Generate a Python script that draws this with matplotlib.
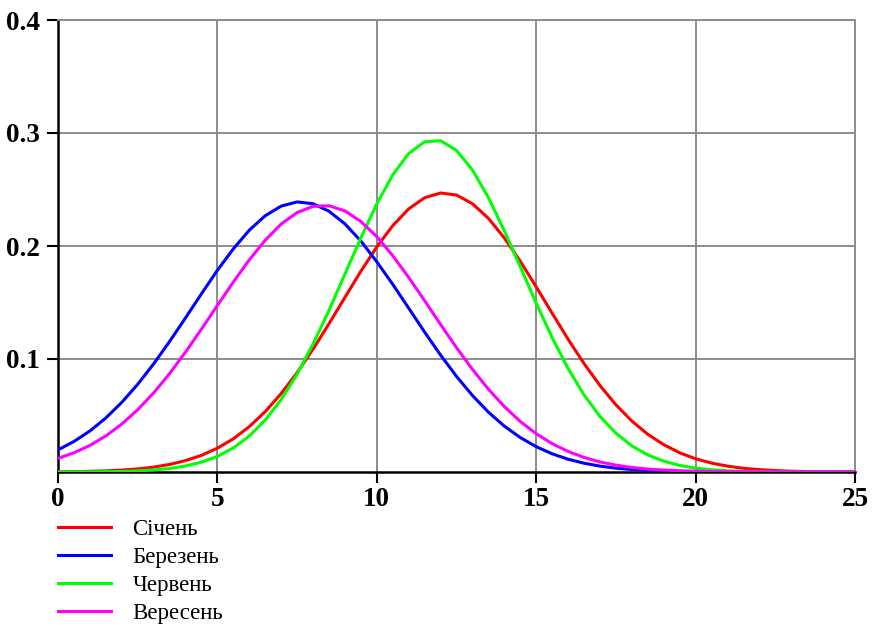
import matplotlib
matplotlib.use("Agg")
import matplotlib.pyplot as plt
import numpy as np

x = [i * 0.5 for i in range(51)]

sichen = [0.0002, 0.0003, 0.0006, 0.0010, 0.0017, 0.0027, 0.0043, 0.0067, 0.0101, 0.0147,
          0.0211, 0.0294, 0.0401, 0.0534, 0.0694, 0.0879, 0.1087, 0.1312, 0.1545, 0.1776,
          0.1992, 0.2180, 0.2328, 0.2427, 0.2469, 0.2451, 0.2374, 0.2245, 0.2071, 0.1865,
          0.1638, 0.1405, 0.1175, 0.0960, 0.0765, 0.0595, 0.0451, 0.0334, 0.0242, 0.0170,
          0.0117, 0.0079, 0.0052, 0.0033, 0.0021, 0.0013, 0.0007, 0.0004, 0.0002, 0.0001, 0.0001]

berezen = [0.0196, 0.0270, 0.0363, 0.0478, 0.0616, 0.0776, 0.0957, 0.1155, 0.1364, 0.1577,
           0.1785, 0.1975, 0.2140, 0.2268, 0.2353, 0.2390, 0.2374, 0.2308, 0.2196, 0.2044,
           0.1860, 0.1661, 0.1450, 0.1238, 0.1035, 0.0846, 0.0677, 0.0530, 0.0406, 0.0305,
           0.0224, 0.0161, 0.0113, 0.0078, 0.0052, 0.0034, 0.0022, 0.0014, 0.0009, 0.0005,
           0.0003, 0.0002, 0.0001, 0.0001, 0.0, 0.0, 0.0, 0.0, 0.0, 0.0, 0.0]

cherven = [0.0, 0.0001, 0.0001, 0.0003, 0.0005, 0.0010, 0.0018, 0.0031, 0.0053, 0.0087,
           0.0138, 0.0213, 0.0318, 0.0459, 0.0641, 0.0866, 0.1132, 0.1431, 0.1751, 0.2072,
           0.2373, 0.2629, 0.2818, 0.2922, 0.2932, 0.2846, 0.2673, 0.2429, 0.2135, 0.1816,
           0.1494, 0.1189, 0.0916, 0.0682, 0.0492, 0.0343, 0.0231, 0.0151, 0.0096, 0.0058,
           0.0034, 0.0020, 0.0011, 0.0006, 0.0003, 0.0001, 0.0, 0.0, 0.0, 0.0, 0.0]

veresen = [0.0120, 0.0170, 0.0235, 0.0319, 0.0424, 0.0551, 0.0700, 0.0871, 0.1061, 0.1264,
           0.1474, 0.1681, 0.1877, 0.2051, 0.2194, 0.2296, 0.2351, 0.2356, 0.2311, 0.2217,
           0.2083, 0.1914, 0.1722, 0.1516, 0.1306, 0.1100, 0.0908, 0.0733, 0.0579, 0.0447,
           0.0339, 0.0251, 0.0182, 0.0129, 0.0089, 0.0061, 0.0040, 0.0026, 0.0017, 0.0011,
           0.0007, 0.0004, 0.0003, 0.0002, 0.0001, 0.0, 0.0, 0.0, 0.0, 0.0, 0.0]

labels = ["Січень", "Березень", "Червень", "Вересень"]
colors = ["#ff0000", "#0000ff", "#00ff00", "#ff00ff"]
series = [sichen, berezen, cherven, veresen]

xticks = [0, 5, 10, 15, 20, 25]
yticks = [0.1, 0.2, 0.3, 0.4]
ytick_labels = ["0.1", "0.2", "0.3", "0.4"]

plt.rcParams['font.family'] = ['Liberation Serif', 'DejaVu Serif']

fig = plt.figure(figsize=(8.76, 6.28), dpi=100)
ax = fig.add_axes([58 / 876, 156 / 628, 797 / 876, 452 / 628])

handles = []
for s, c, l in zip(series, colors, labels):
    h, = ax.plot(x, s, color=c, lw=2.2, label=l, zorder=3)
    handles.append(h)

ax.set_xlim(0, 25)
ax.set_ylim(0, 0.4)
ax.set_xticks(xticks)
ax.set_xticklabels([str(t) for t in xticks])
ax.set_yticks(yticks)
ax.set_yticklabels(ytick_labels)
ax.grid(True, color="#8c8c8c", lw=1.4, zorder=0)
ax.set_axisbelow(True)

for side in ["top", "right"]:
    ax.spines[side].set_color("#8c8c8c")
    ax.spines[side].set_linewidth(1.4)
for side in ["left", "bottom"]:
    ax.spines[side].set_color("black")
    ax.spines[side].set_linewidth(1.8)

ax.tick_params(axis="both", direction="out", length=8, width=1.5, color="black",
               labelsize=19.5)
ax.tick_params(axis="y", pad=5)
ax.tick_params(axis="x", pad=3)
for t in ax.get_xticklabels() + ax.get_yticklabels():
    t.set_fontweight("bold")

fig.legend(handles, labels, loc="upper left", bbox_to_anchor=(58 / 876, 1 - 519 / 628),
           frameon=False, fontsize=16.5, handlelength=2.3, handletextpad=0.95,
           labelspacing=0.3, borderpad=0, borderaxespad=0)

fig.savefig("out.png", dpi=100)
